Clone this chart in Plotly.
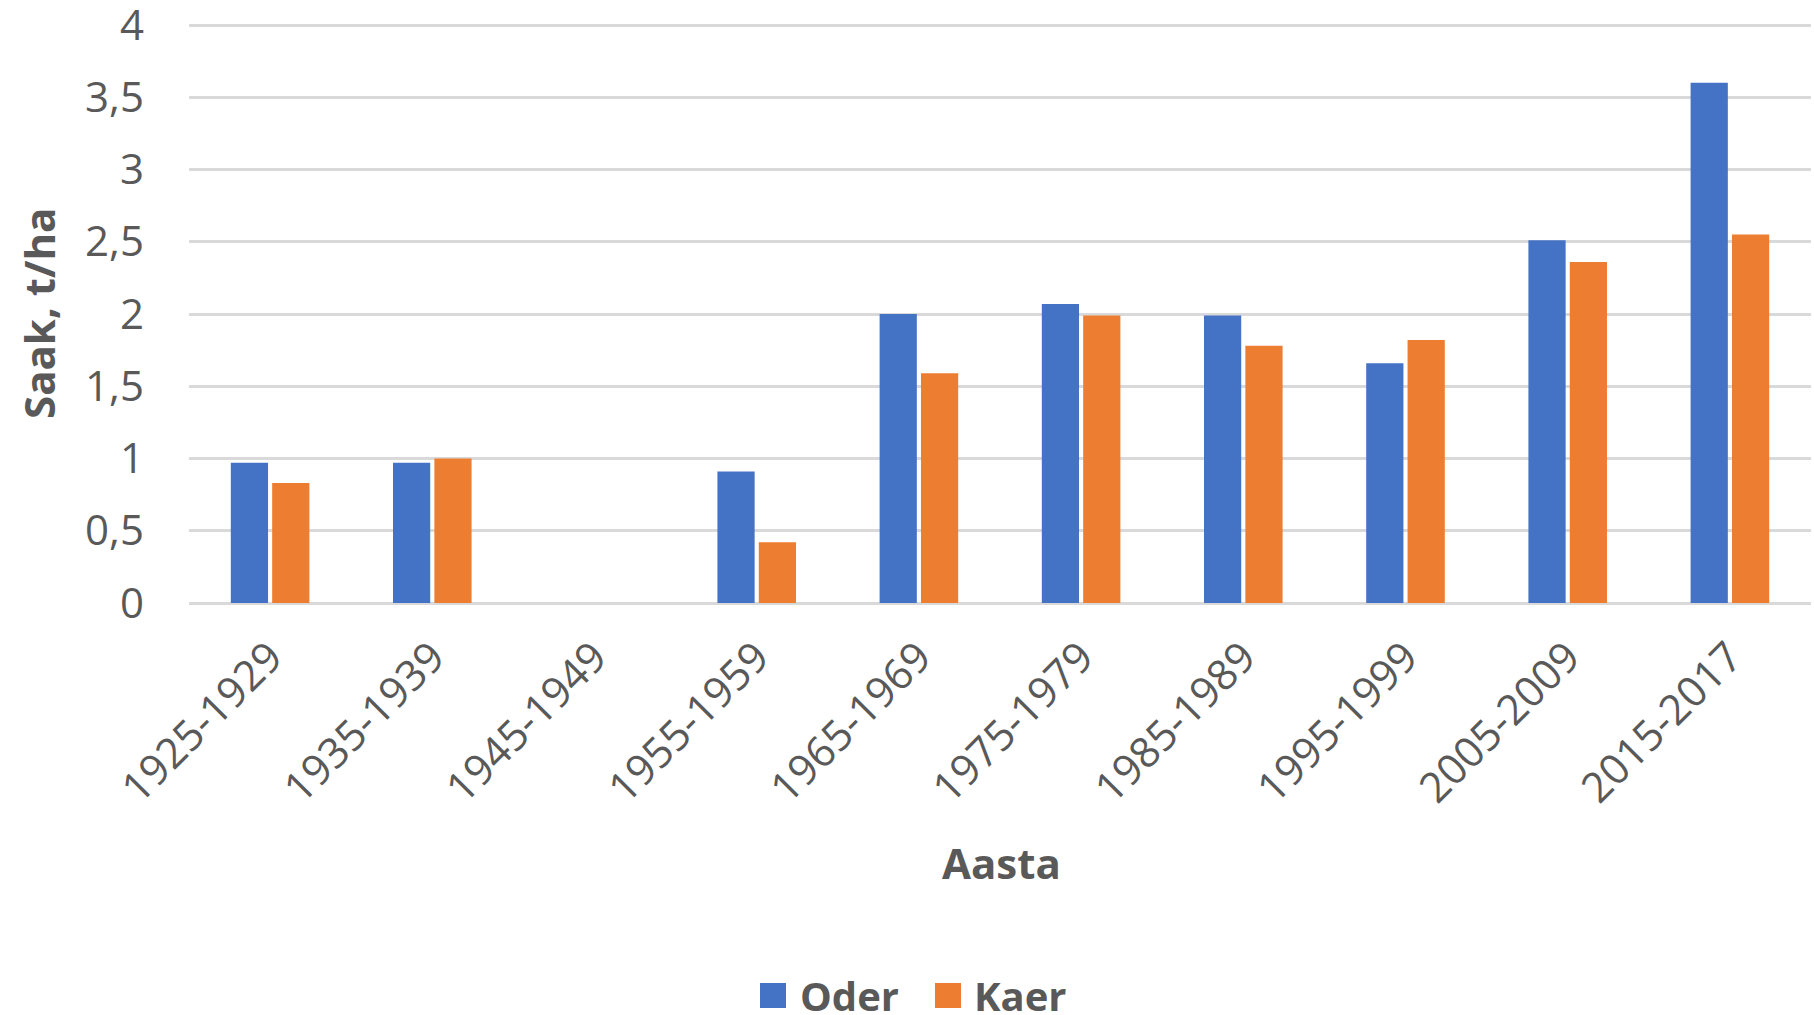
import plotly.graph_objects as go

categories = ["1925-1929", "1935-1939", "1945-1949", "1955-1959", "1965-1969",
              "1975-1979", "1985-1989", "1995-1999", "2005-2009", "2015-2017"]
oder = [0.97, 0.97, None, 0.91, 2.0, 2.07, 1.99, 1.66, 2.51, 3.60]
kaer = [0.83, 1.00, None, 0.42, 1.59, 1.99, 1.78, 1.82, 2.36, 2.55]
y_ticks = [0, 0.5, 1, 1.5, 2, 2.5, 3, 3.5, 4]
series_names = ["Oder", "Kaer"]
series_colors = ["#4472C4", "#ED7D31"]

FONT = "Open Sans"
GRAY = "#595959"

# plot area in pixels (top a little above the "4" gridline so it is drawn)
L, R, T, B = 189, 1811, 22, 603
W, H = R - L, B - T
Y_TOP = 4 * H / (B - 25)


def px(x):
    return (x - L) / W


def py(y):
    return (B - y) / H


fig = go.Figure()
for name, vals, col in zip(series_names, [oder, kaer], series_colors):
    fig.add_trace(go.Bar(name=name, x=categories, y=vals, showlegend=False,
                         marker=dict(color=col, line=dict(width=0))))

fig.update_layout(
    width=1814, height=1015,
    paper_bgcolor="white", plot_bgcolor="white",
    margin=dict(l=L, r=1814 - R, t=T, b=1015 - B, autoexpand=False),
    barmode="group", bargap=0.49, bargroupgap=0.1,
    separators=", ",
    font=dict(family=FONT, color=GRAY, size=40),
    showlegend=False,
)
fig.update_yaxes(range=[0, Y_TOP], tickvals=y_ticks, showgrid=True, gridcolor="#D9D9D9", gridwidth=2.5,
                 zeroline=True, zerolinecolor="#D9D9D9", zerolinewidth=2.5, automargin=False,
                 tickfont=dict(size=42, color=GRAY), ticklabelstandoff=44, showline=False,
                 ticklabeloverflow="allow")
fig.update_xaxes(tickangle=-45, tickfont=dict(size=42, color=GRAY), showgrid=False, showline=False,
                 automargin=False, ticklabelstandoff=20, ticklabeloverflow="allow")

fig.add_annotation(text="<b>Saak, t/ha</b>", xref="paper", yref="paper", x=px(38), y=py(314),
                   textangle=-90, showarrow=False, font=dict(size=42, color=GRAY),
                   xanchor="center", yanchor="middle")
fig.add_annotation(text="<b>Aasta</b>", xref="paper", yref="paper", x=px(1002), y=py(862),
                   showarrow=False, font=dict(size=42, color=GRAY),
                   xanchor="center", yanchor="middle")

# legend (manual, to match the large square swatches)
legend_items = [(760, 798), (935, 972)]
for (bx, tx), name, col in zip(legend_items, series_names, series_colors):
    fig.add_shape(type="rect", xref="paper", yref="paper",
                  x0=px(bx), x1=px(bx + 26), y0=py(983), y1=py(1008),
                  fillcolor=col, line=dict(width=0))
    fig.add_annotation(text="<b>" + name + "</b>", xref="paper", yref="paper", x=px(tx), y=py(995),
                       showarrow=False, font=dict(size=40, color=GRAY),
                       xanchor="left", yanchor="middle")

fig.write_html("out.html", config={"displayModeBar": False},
               post_script="document.body.style.margin='0';document.body.style.overflow='hidden';")
